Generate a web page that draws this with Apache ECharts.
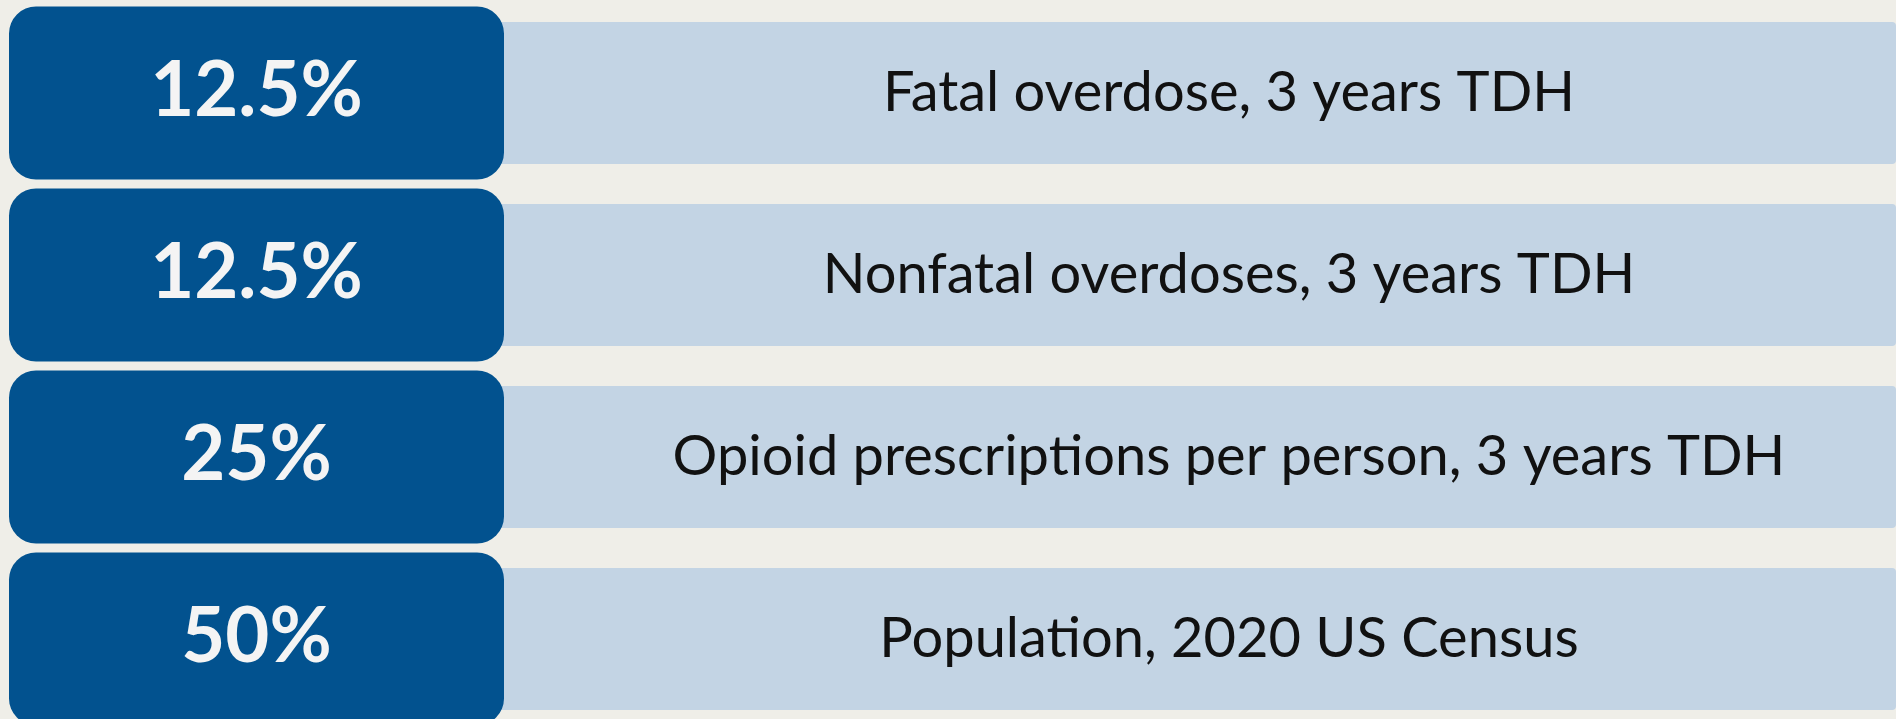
<!DOCTYPE html>
<html>
<head>
<meta charset="utf-8">
<script src="https://cdn.jsdelivr.net/npm/echarts@6/dist/echarts.min.js"></script>
<style>
  html, body { margin: 0; padding: 0; background: #efeee8; }
  #chart { width: 1896px; height: 719px; }
</style>
</head>
<body>
<div id="chart"></div>
<script>
// rows, top to bottom
const categories = [
  'Fatal overdose, 3 years TDH',
  'Nonfatal overdoses, 3 years TDH',
  'Opioid prescriptions per person, 3 years TDH',
  'Population, 2020 US Census'
]
const shares = [12.5, 12.5, 25, 50]
const shareLabels = ['12.5%', '12.5%', '25%', '50%']

const DARK = '#02528f'
const LIGHT = '#c3d4e4'

const chart = echarts.init(document.getElementById('chart'))

const renderRow = (params, api) => {
  const i = api.value(0)
  const band = api.size([0, 1])[1]
  const [left, cy] = api.coord([9, i])
  const right = api.coord([504, i])[0]
  const end = api.coord([1896, i])[0]
  const textX = api.coord([1229, i])[0]
  const darkH = band * 0.95
  const lightH = band * 0.78

  return {
    type: 'group',
    children: [
      {
        type: 'rect',
        shape: { x: right - 30, y: cy - lightH / 2, width: end - right + 30, height: lightH, r: 4 },
        style: { fill: LIGHT }
      },
      {
        type: 'rect',
        shape: { x: left, y: cy - darkH / 2, width: right - left, height: darkH, r: 27 },
        style: { fill: DARK }
      },
      {
        type: 'text',
        style: {
          text: shareLabels[i],
          x: (left + right) / 2,
          y: cy - 2,
          align: 'center',
          verticalAlign: 'middle',
          font: 'bold 76px Lato',
          fill: '#f4f4f4'
        }
      },
      {
        type: 'text',
        style: {
          text: categories[i],
          x: textX,
          y: cy,
          align: 'center',
          verticalAlign: 'middle',
          font: '56px Lato',
          fill: '#111111'
        }
      }
    ]
  }
}

const option = {
  backgroundColor: '#efeee8',
  animation: false,
  grid: { left: 0, top: 2, width: 1896, height: 728, outerBoundsMode: 'none', containLabel: false },
  xAxis: { type: 'value', min: 0, max: 1896, show: false },
  yAxis: { type: 'category', data: categories, inverse: true, show: false },
  series: [
    {
      type: 'custom',
      renderItem: renderRow,
      clip: false,
      encode: { y: 0 },
      data: categories.map((c, i) => [i, shares[i]])
    }
  ]
}

chart.setOption(option)
</script>
</body>
</html>
